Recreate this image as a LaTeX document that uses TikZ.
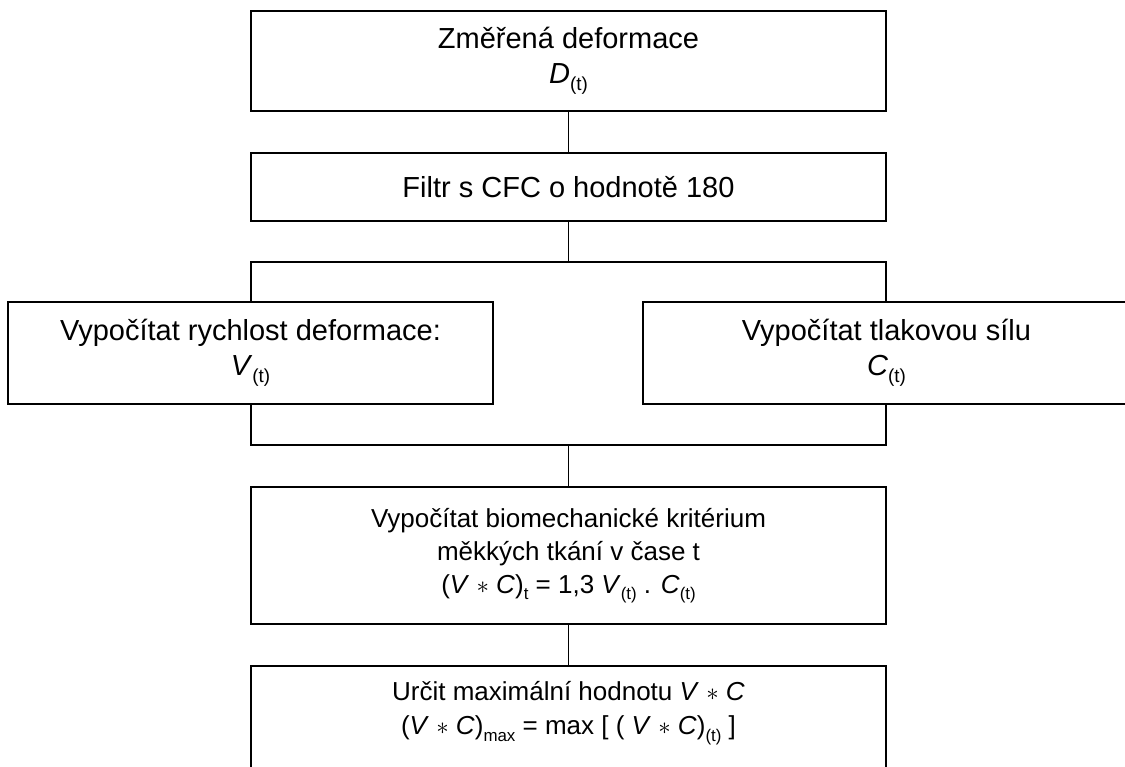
\documentclass[tikz,border=0pt]{standalone}
\usepackage{fontspec}
\setmainfont{Liberation Sans}
\newcommand\lsub[1]{\raisebox{-0.25em}{\fontsize{0.65em}{0.65em}\selectfont #1}}
\newcommand\vstar{\mbox{ $\ast$ }}
\begin{document}
\begin{tikzpicture}[x=1pt,y=-1pt,
  box/.style={draw, line width=2.2pt, minimum width=635pt, align=center,
    font=\fontsize{29}{35}\selectfont, inner sep=0pt},
  lowbox/.style={box, font=\fontsize{26}{33}\selectfont},
  txt/.style={align=center, font=\fontsize{29}{35}\selectfont, inner sep=0pt},
  lowtxt/.style={align=center, font=\fontsize{26}{34}\selectfont, inner sep=0pt},
  conn/.style={line width=1.8pt}]
\useasboundingbox (0,0) rectangle (1125,767);
\clip (0,0) rectangle (1125,767);
\fill[white] (0,0) rectangle (1125,767);

\node[box, minimum height=100pt] (meas) at (568.5,61) {Změřená deformace\\\textit{D}\lsub{(t)}};
\node[box, minimum height=68pt] (filtr) at (568.5,187) {Filtr s CFC o hodnotě 180};
\node[box, minimum width=485pt, minimum height=102pt] (left) at (250.5,353) {Vypočítat rychlost deformace:\\\textit{V}\lsub{(t)}};
\node[box, minimum width=487pt, minimum height=102pt] (right) at (886.5,353) {};
\node[txt] (righttext) at (886.5,353) {Vypočítat tlakovou sílu\\\textit{C}\lsub{(t)}};
\node[lowbox, minimum height=137pt] (big) at (568.5,555.5) {Vypočítat biomechanické kritérium\\měkkých tkání v čase t\\(\textit{V}\vstar\textit{C})\lsub{t} = 1,3 \textit{V}\lsub{(t)} . \textit{C}\lsub{(t)}};
\node[box, minimum height=150pt, anchor=north] (last) at (568.5,665) {};
\node[lowtxt] (lasttext) at (568.5,713) {Určit maximální hodnotu \textit{V}\vstar\textit{C}\\(\textit{V}\vstar\textit{C})\lsub{max} = max [ ( \textit{V}\vstar\textit{C})\lsub{(t)} ]};

\coordinate (split) at (568.5,262);
\coordinate (tl) at (251,262);
\coordinate (tr) at (886,262);
\coordinate (bl) at (251,445);
\coordinate (br) at (886,445);
\coordinate (join) at (568.5,445);

\draw[conn] (meas.south) -- (filtr.north);
\draw[conn] (filtr.south) -- (split);
\draw[conn] (tl |- left.north) -- (tl) -- (tr) -- (tr |- right.north);
\draw[conn] (bl |- left.south) -- (bl) -- (br) -- (br |- right.south);
\draw[conn] (join) -- (big.north);
\draw[conn] (big.south) -- (last.north);
\end{tikzpicture}
\end{document}
